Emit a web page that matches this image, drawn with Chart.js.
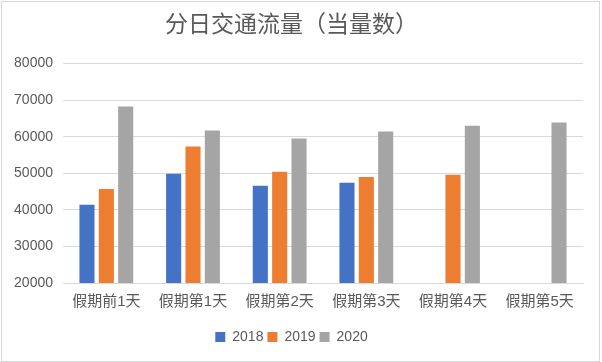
<!DOCTYPE html>
<html>
<head>
<meta charset="utf-8">
<script src="https://cdn.jsdelivr.net/npm/chart.js@4"></script>
<style>
  html, body { margin: 0; padding: 0; background: #fff; }
  #wrap { width: 602px; height: 362px; position: relative; }
</style>
</head>
<body>
<div id="wrap"><canvas id="trafficChart" width="602" height="362"></canvas></div>
<script>
// categories and series
const dayLabels = ['假期前1天', '假期第1天', '假期第2天', '假期第3天', '假期第4天', '假期第5天'];
const seriesNames = ['2018', '2019', '2020'];
const values2018 = [41400, 49900, 46600, 47400, null, null];
const values2019 = [45700, 57300, 50400, 49000, 49600, null];
const values2020 = [68300, 61700, 59500, 61400, 63000, 63900];
const yTicks = [20000, 30000, 40000, 50000, 60000, 70000, 80000];

const seriesColors = [
    '#4472C4', // blue
    '#ED7D31', // orange
    '#A5A5A5'  // grey
];
const textColor = '#595959';
const gridColor = '#D9D9D9';
const fontFamily = "'Liberation Sans', 'Noto Sans CJK SC', sans-serif";

// white page + thin outer frame, like the spreadsheet chart box
const frame = {
  id: 'frame',
  beforeDraw(chart) {
    const ctx = chart.ctx;
    ctx.save();
    ctx.fillStyle = '#fff';
    ctx.fillRect(0, 0, chart.width, chart.height);
    ctx.strokeStyle = gridColor;
    ctx.lineWidth = 1;
    ctx.strokeRect(1.5, 1.5, chart.width - 4, chart.height - 2);
    ctx.restore();
  }
};

function makeDataset(i, data) {
  return {
    label: seriesNames[i],
    data: data,
    backgroundColor: seriesColors[i],
    borderWidth: 0,
    categoryPercentage: 0.67,
    barPercentage: 0.78
  };
}

const trafficChart = new Chart(document.getElementById('trafficChart'), {
  type: 'bar',
  data: {
    labels: dayLabels,
    datasets: [
      makeDataset(0, values2018),
      makeDataset(1, values2019),
      makeDataset(2, values2020)
    ]
  },
  plugins: [frame],
  options: {
    responsive: false,
    animation: false,
    layout: { padding: { top: 0, left: 0, right: 19, bottom: 8 } },
    plugins: {
      title: {
        display: true,
        text: '分日交通流量（当量数）',
        color: textColor,
        font: { family: fontFamily, size: 23, weight: 'normal' },
        padding: { top: 12, bottom: 24 }
      },
      legend: {
        position: 'bottom',
        labels: {
          color: textColor,
          font: { family: fontFamily, size: 14 },
          boxWidth: 10,
          boxHeight: 10,
          padding: 4
        }
      },
      tooltip: { enabled: false }
    },
    scales: {
      x: {
        grid: { display: false, drawTicks: false },
        border: { color: gridColor },
        ticks: {
          color: textColor,
          font: { family: fontFamily, size: 15 },
          padding: 10,
          maxRotation: 0
        },
        afterFit(scale) { scale.height = 43; }
      },
      y: {
        min: yTicks[0],
        max: yTicks[yTicks.length - 1],
        afterBuildTicks(scale) { scale.ticks = yTicks.map(v => ({ value: v })); },
        grid: { color: gridColor, drawTicks: false },
        border: { display: false },
        ticks: {
          color: textColor,
          font: { family: fontFamily, size: 14 },
          padding: 10,
          callback: v => String(v)
        },
        afterFit(scale) { scale.width = 63; }
      }
    }
  }
});
</script>
</body>
</html>
